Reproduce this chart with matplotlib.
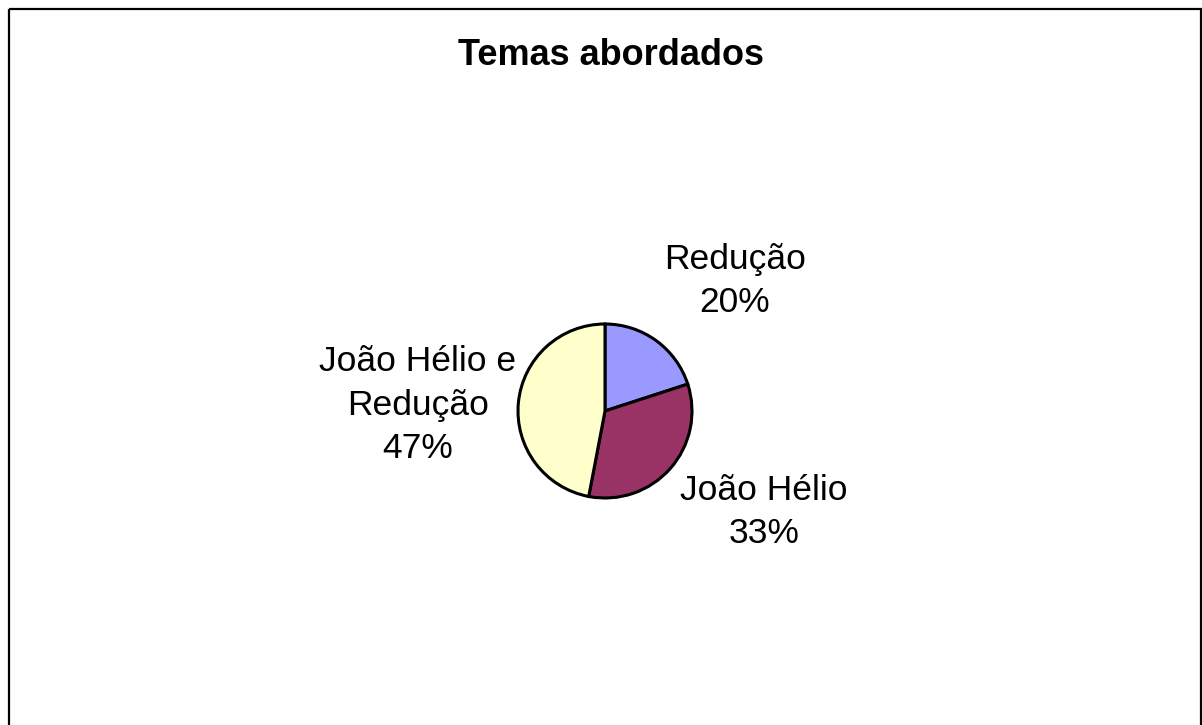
import matplotlib.pyplot as plt
from matplotlib.patches import Rectangle

# data
temas = ['Redução', 'João Hélio', 'João Hélio e\nRedução']
percentuais = [20, 33, 47]
cores = ['#9999FF', '#993366', '#FFFFCC']

plt.rcParams['font.family'] = ['Liberation Sans', 'DejaVu Sans']

fig = plt.figure(figsize=(12.02, 7.25), dpi=100)
ax = fig.add_axes([0, 0, 1, 1])

# y axis runs downward (pixel-like), so start at -90 and go counterclockwise
# in data space to look clockwise-from-top on screen
ax.pie(percentuais, colors=cores, startangle=-90, counterclock=True,
       center=(605, 411), radius=87, frame=True,
       wedgeprops=dict(edgecolor='black', linewidth=2.2))
ax.set_xlim(0, 1202)
ax.set_ylim(725, 0)
ax.set_aspect('equal')
ax.axis('off')

# chart border (bottom edge falls off the picture)
ax.add_patch(Rectangle((8.5, 8.5), 1192, 740, fill=False, edgecolor='black', linewidth=1.6))

ax.text(611, 55, 'Temas abordados', ha='center', va='center', fontsize=26, fontweight='bold')

# label positions (outside end, like the original)
pos = [(735, 281), (764, 512), (418, 405)]
for nome, p, (x, y) in zip(temas, percentuais, pos):
    ax.text(x, y, f'{nome}\n{p}%', ha='center', va='center', fontsize=25.5,
            linespacing=1.42)

fig.savefig('out.png', dpi=100)
